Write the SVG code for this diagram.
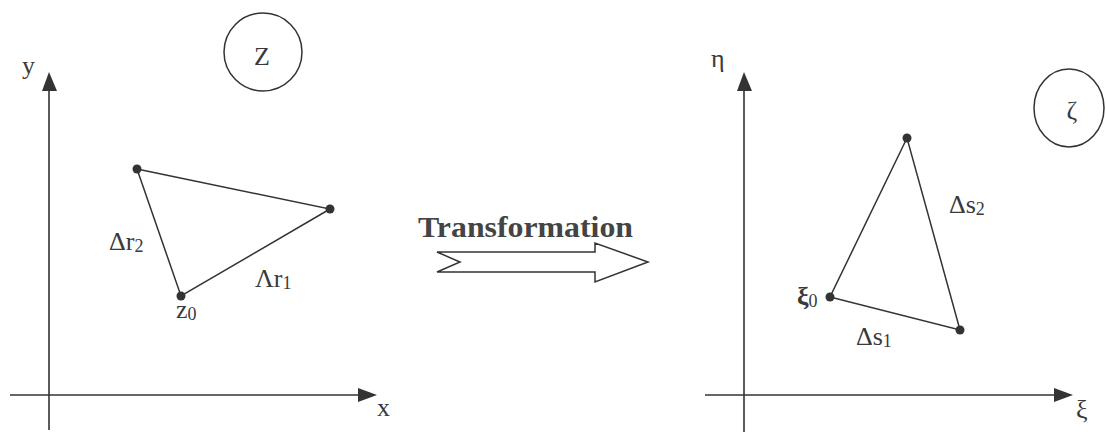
<svg xmlns="http://www.w3.org/2000/svg" width="1106" height="432" viewBox="0 0 1106 432">
<style>
.ax{stroke:#333;stroke-width:1.6;fill:none}
.ed{stroke:#333;stroke-width:1.5;fill:none}
.ah{fill:#333}
.pt{fill:#333}
.lb{font-family:"Liberation Serif","DejaVu Serif",serif;fill:#3a3a3a;font-size:26px}
.sb{font-size:18px}
.ci{stroke:#333;stroke-width:1.5;fill:none}
</style>
<rect width="1106" height="432" fill="#fff"/>
<g id="connectors">
<line class="ax" x1="49" y1="88" x2="49" y2="430"/>
<polygon class="ah" points="49,72 42,91 57,91"/>
<line class="ax" x1="10" y1="395" x2="362" y2="395"/>
<polygon class="ah" points="377,395 358,388 358,402"/>
<line class="ax" x1="744" y1="88" x2="744" y2="432"/>
<polygon class="ah" points="744,72 737,91 752,91"/>
<line class="ax" x1="705" y1="395" x2="1058" y2="395"/>
<polygon class="ah" points="1073,395 1054,388 1054,402"/>
<polygon points="437,252 595,252 595,243 648,262 595,282 595,272 437,272 460,262" fill="#fff" stroke="#333" stroke-width="1.5"/>
</g>
<g id="z-plane">
<text class="lb" x="22" y="74">y</text>
<text class="lb" x="377" y="416">x</text>
<circle class="ci" cx="263" cy="52" r="39"/>
<text class="lb" x="262" y="65" text-anchor="middle">Z</text>
<polygon class="ed" points="137,169 330,209 181,296"/>
<circle class="pt" cx="137" cy="169" r="4.5"/>
<circle class="pt" cx="330" cy="209" r="4.5"/>
<circle class="pt" cx="181" cy="296" r="4.5"/>
<text class="lb" x="109" y="250">Δr<tspan class="sb" dy="2">2</tspan></text>
<text class="lb" x="255" y="287">Λr<tspan class="sb" dy="2">1</tspan></text>
<text class="lb" x="176" y="318">z<tspan class="sb" dy="2">0</tspan></text>
</g>
<g id="transformation">
<text x="418" y="237" font-family="Liberation Serif, serif" font-weight="bold" font-size="29" fill="#444" textLength="215" lengthAdjust="spacingAndGlyphs">Transformation</text>
</g>
<g id="zeta-plane">
<text class="lb" x="711" y="67">η</text>
<text class="lb" x="1076" y="418" font-size="28">ξ</text>
<ellipse class="ci" cx="1069" cy="108" rx="35" ry="39"/>
<text class="lb" x="1072" y="119" text-anchor="middle" font-size="34">ζ</text>
<polygon class="ed" points="907,138 830,297 960,330"/>
<circle class="pt" cx="907" cy="138" r="4.5"/>
<circle class="pt" cx="830" cy="297" r="4.5"/>
<circle class="pt" cx="960" cy="330" r="4.5"/>
<text class="lb" x="949" y="213">Δs<tspan class="sb" dy="2">2</tspan></text>
<text class="lb" x="856" y="345">Δs<tspan class="sb" dy="2">1</tspan></text>
<text class="lb" x="797" y="305" font-size="32" font-weight="bold">ξ<tspan class="sb" font-weight="normal" dy="2">0</tspan></text>
</g>
</svg>
